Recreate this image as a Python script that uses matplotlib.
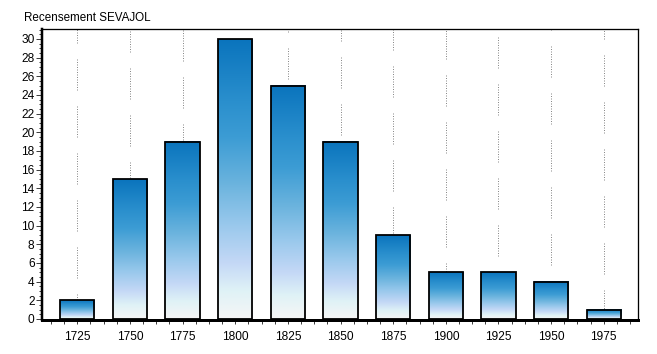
import numpy as np
import matplotlib
matplotlib.use("Agg")
import matplotlib.pyplot as plt
from matplotlib.colors import LinearSegmentedColormap
from matplotlib.ticker import MultipleLocator

plt.rcParams["font.family"] = ["Liberation Sans", "DejaVu Sans"]

annees = ["1725", "1750", "1775", "1800", "1825", "1850", "1875",
          "1900", "1925", "1950", "1975"]
habitants = [2, 15, 19, 30, 25, 19, 9, 5, 5, 4, 1]
titre = "Recensement SEVAJOL"

PX = 0.72  # points per pixel at dpi 100

degrade = LinearSegmentedColormap.from_list("degrade", [
    (0.00, "#0a74bd"), (0.22, "#2a8fcd"), (0.35, "#3c9cd4"),
    (0.52, "#6cb4de"), (0.66, "#98c8ec"), (0.80, "#c4d8f6"),
    (0.90, "#dff2f6"), (1.00, "#f6f6f6")])

fig = plt.figure(figsize=(6.57, 3.54), dpi=100, facecolor="white")
ax = fig.add_axes([42 / 657, 34 / 354, 596 / 657, 291 / 354])

x = np.arange(len(annees))

# pointilles verticaux (grille interrompue)
for i in x:
    ax.axvline(i, color="#8a8a8a", lw=1 * PX, zorder=1,
               linestyle=(5 + 9 * i, [1, 1.5] * 12 + [1, 16]))

barres = ax.bar(x, habitants, width=0.65, facecolor="none",
                edgecolor="black", linewidth=1.8 * PX, zorder=3)
grad = np.linspace(0, 1, 256).reshape(-1, 1)
for b in barres:
    x0, w, h = b.get_x(), b.get_width(), b.get_height()
    ax.imshow(grad, extent=(x0, x0 + w, 0, h), aspect="auto",
              cmap=degrade, origin="upper", zorder=2, interpolation="bilinear")

ax.set_xlim(-0.67, len(annees) - 1 + 0.65)
ax.set_ylim(-0.11, 31.07)

ax.set_xticks(x)
ax.set_xticklabels(annees)
ax.xaxis.set_minor_locator(MultipleLocator(0.25))
ax.yaxis.set_major_locator(MultipleLocator(2))
ax.yaxis.set_minor_locator(MultipleLocator(0.5))
ax.tick_params(axis="both", which="both", direction="out", color="#404040",
               width=1 * PX, labelsize=8.6)
ax.tick_params(axis="x", which="both", length=4 * PX, pad=5)
ax.tick_params(axis="y", which="major", length=6 * PX, pad=1)
ax.tick_params(axis="y", which="minor", length=3 * PX)

ax.spines["left"].set_linewidth(2.5 * PX)
ax.spines["bottom"].set_linewidth(3 * PX)
ax.spines["top"].set_linewidth(1.3 * PX)
ax.spines["right"].set_linewidth(1.3 * PX)

fig.text(24 / 657, 1 - 18 / 354, titre, fontsize=8.4, va="center", ha="left")

fig.savefig("out.png", dpi=100, facecolor="white")
